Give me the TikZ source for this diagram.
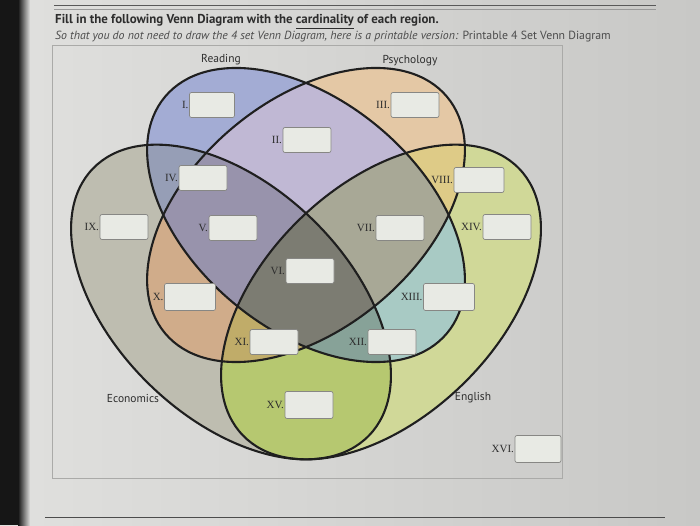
\documentclass[tikz,border=0pt]{standalone}
\usepackage{fontspec}
\setmainfont{Liberation Serif}
\setsansfont{PT Sans}
\usetikzlibrary{calc}
\definecolor{bgL}{RGB}{224,224,222}
\definecolor{bgR}{RGB}{200,200,198}
\definecolor{cI}{RGB}{163,172,212}
\definecolor{cII}{RGB}{192,184,212}
\definecolor{cIII}{RGB}{228,200,165}
\definecolor{cIV}{RGB}{150,158,182}
\definecolor{cV}{RGB}{152,147,172}
\definecolor{cVI}{RGB}{124,124,114}
\definecolor{cVII}{RGB}{168,168,150}
\definecolor{cVIII}{RGB}{222,203,135}
\definecolor{cIX}{RGB}{190,189,176}
\definecolor{cX}{RGB}{208,172,138}
\definecolor{cXI}{RGB}{192,172,105}
\definecolor{cXII}{RGB}{135,162,152}
\definecolor{cXIII}{RGB}{168,202,196}
\definecolor{cXIV}{RGB}{208,216,152}
\definecolor{cXV}{RGB}{182,200,112}
\definecolor{boxfill}{RGB}{232,234,228}
\definecolor{boxline}{RGB}{135,135,132}
\definecolor{txt}{RGB}{45,45,45}
\definecolor{framec}{RGB}{170,170,168}
\definecolor{bezel}{RGB}{22,22,22}

\newcommand\clipR{\clip[rotate around={-40:(306,310)}] (306,310) ellipse [x radius=184, y radius=114];}
\newcommand\clipP{\clip[rotate around={40:(306,310)}] (306,310) ellipse [x radius=184, y radius=114];}
\newcommand\clipE{\clip[rotate around={-44:(231,223)}] (231,223) ellipse [x radius=192, y radius=116];}
\newcommand\clipG{\clip[rotate around={44:(381,223)}] (381,223) ellipse [x radius=192, y radius=116];}
\newcommand\regfill[1]{\fill[#1] (0,0) rectangle (700,525);}
\newcommand\ansbox[4]{\node[ansbox,#4] (b#1) at (#2) {}; \node[numlab] (l#1) at (b#1.west) {#3};}

\tikzset{
  ansbox/.style={draw=boxline, fill=boxfill, line width=0.7pt, rounded corners=2pt,
    minimum width=48pt, minimum height=25pt, inner sep=0pt},
  numlab/.style={anchor=east, inner sep=0.5pt, text=txt, font=\fontsize{11}{12}\selectfont},
  setlab/.style={text=txt, inner sep=0pt, font=\sffamily\fontsize{11.5}{13}\selectfont},
  venn/.style={draw=black!88, line width=2.1pt},
}

\begin{document}
\begin{tikzpicture}[x=1pt,y=1pt]
\useasboundingbox (0,0) rectangle (700,525);
% background
\shade[left color=bgL, right color=bgR] (0,0) rectangle (700,525);
\fill[bezel] (0,0) rectangle (18,525);
\shade[left color=bezel, right color=bgL] (18,0) rectangle (30,525);
% page rules
\draw[gray!70!black, line width=0.8pt] (54,520) -- (656,520);
\draw[gray!80, line width=0.6pt] (54,516) -- (656,516);
\draw[gray!60!black, line width=0.9pt] (45,8) -- (665,8);
% frame
\draw[framec, line width=0.6pt] (52,47) rectangle (562,480);
% title
\node[anchor=base west, inner sep=0pt, text=txt, font=\sffamily\bfseries\fontsize{12.9}{14}\selectfont] (title) at (55,501)
  {Fill in the following Venn Diagram with the \underline{cardinality} of each region.};
\node[anchor=base west, inner sep=0pt, text=txt!85, font=\sffamily\fontsize{11.8}{13}\selectfont] (sub) at (55,485)
  {\textit{So that you do not need to draw the 4 set Venn Diagram, here is a printable version:} Printable 4 Set Venn Diagram};
% regions: singles
\begin{scope}\clipR\regfill{cI}\end{scope}
\begin{scope}\clipP\regfill{cIII}\end{scope}
\begin{scope}\clipE\regfill{cIX}\end{scope}
\begin{scope}\clipG\regfill{cXIV}\end{scope}
% pairs
\begin{scope}\clipR\clipP\regfill{cII}\end{scope}
\begin{scope}\clipR\clipE\regfill{cIV}\end{scope}
\begin{scope}\clipP\clipE\regfill{cX}\end{scope}
\begin{scope}\clipP\clipG\regfill{cVIII}\end{scope}
\begin{scope}\clipR\clipG\regfill{cXIII}\end{scope}
\begin{scope}\clipE\clipG\regfill{cXV}\end{scope}
% triples
\begin{scope}\clipR\clipP\clipE\regfill{cV}\end{scope}
\begin{scope}\clipR\clipP\clipG\regfill{cVII}\end{scope}
\begin{scope}\clipP\clipE\clipG\regfill{cXI}\end{scope}
\begin{scope}\clipR\clipE\clipG\regfill{cXII}\end{scope}
% all four
\begin{scope}\clipR\clipP\clipE\clipG\regfill{cVI}\end{scope}
% outlines
\draw[venn, rotate around={-40:(306,310)}] (306,310) ellipse [x radius=184, y radius=114];
\draw[venn, rotate around={40:(306,310)}] (306,310) ellipse [x radius=184, y radius=114];
\draw[venn, rotate around={-44:(231,223)}] (231,223) ellipse [x radius=192, y radius=116];
\draw[venn, rotate around={44:(381,223)}] (381,223) ellipse [x radius=192, y radius=116];
% set labels
\node[setlab] (reading) at (221,465) {Reading};
\node[setlab] (psych) at (410,464) {Psychology};
\node[setlab] (econ) at (133,127) {Economics};
\node[setlab] (engl) at (473,127) {English};
% answer boxes
\ansbox{1}{212,420}{I.}{minimum width=45pt}
\ansbox{2}{307,385}{II.}{}
\ansbox{3}{415,420}{III.}{}
\ansbox{4}{203,347}{IV.}{}
\ansbox{5}{233,297}{V.}{}
\ansbox{6}{310,254}{VI.}{}
\ansbox{7}{400,297}{VII.}{}
\ansbox{8}{479,345}{VIII.}{minimum width=50pt}
\ansbox{9}{124,298}{IX.}{}
\ansbox{10}{190,228}{X.}{minimum width=51pt, minimum height=27pt}
\ansbox{11}{274,183}{XI.}{}
\ansbox{12}{392,183}{XII.}{}
\ansbox{13}{449,228}{XIII.}{minimum width=51pt, minimum height=27pt}
\ansbox{14}{507,298}{XIV.}{}
\ansbox{15}{309,120}{XV.}{minimum height=27pt}
\ansbox{16}{538,76}{XVI.}{minimum width=46pt, minimum height=27pt}
\end{tikzpicture}
\end{document}
